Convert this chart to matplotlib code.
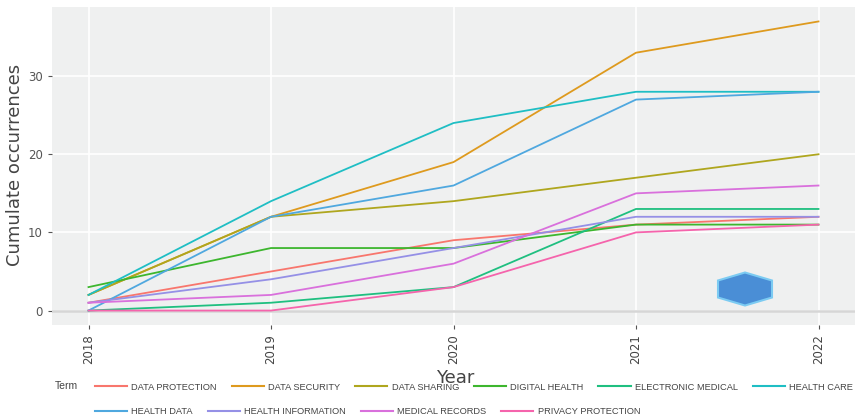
import matplotlib
matplotlib.use("Agg")
import matplotlib.pyplot as plt
from matplotlib.patches import Polygon

years = [2018, 2019, 2020, 2021, 2022]
terms = ["DATA PROTECTION", "DATA SECURITY", "DATA SHARING", "DIGITAL HEALTH",
         "ELECTRONIC MEDICAL", "HEALTH CARE", "HEALTH DATA", "HEALTH INFORMATION",
         "MEDICAL RECORDS", "PRIVACY PROTECTION"]
data_protection = [1, 5, 9, 11, 12]
data_security = [2, 12, 19, 33, 37]
data_sharing = [2, 12, 14, 17, 20]
digital_health = [3, 8, 8, 11, 11]
electronic_medical = [0, 1, 3, 13, 13]
health_care = [2, 14, 24, 28, 28]
health_data = [0, 12, 16, 27, 28]
health_information = [1, 4, 8, 12, 12]
medical_records = [1, 2, 6, 15, 16]
privacy_protection = [0, 0, 3, 10, 11]
series = [data_protection, data_security, data_sharing, digital_health,
          electronic_medical, health_care, health_data, health_information,
          medical_records, privacy_protection]
colors = ["#F8766D", "#DE9A1E", "#AFA61E", "#3DB62E", "#1FBF80", "#1FBEC4",
          "#4FA8DF", "#9590E6", "#D970DC", "#F564AC"]

plt.rcParams['font.family'] = ['Liberation Sans', 'DejaVu Sans']
fig = plt.figure(figsize=(8.55, 4.2), dpi=100)
ax = fig.add_axes([52/855, 95/420, 1 - 52/855, (325-7)/420])
ax.set_facecolor("#EFF0F0")
for s in ax.spines.values():
    s.set_visible(False)
ax.set_xlim(2017.8, 2022.2)
ax.set_ylim(-1.85, 38.85)
ax.set_xticks(years)
ax.set_yticks([0, 10, 20, 30])
ax.grid(True, color="white", linewidth=1.2)
ax.set_axisbelow(True)
ax.axhline(0, color="#D6D6D6", linewidth=1.8, zorder=1)

lines = []
for vals, c, t in zip(series, colors, terms):
    ln, = ax.plot(years, vals, color=c, linewidth=1.3, label=t, zorder=3)
    lines.append(ln)

ax.tick_params(axis='x', labelrotation=90, colors="#555555",
               length=3, width=0.8, labelcolor="#444444")
ax.tick_params(axis='y', colors="#555555", length=3, width=0.8,
               labelcolor="#555555")
for lab in ax.get_xticklabels() + ax.get_yticklabels():
    lab.set_family(['DejaVu Sans'])
    lab.set_fontsize(8.5)

fig.text(15/855, 1 - 165/420, "Cumulate occurrences", rotation=90, ha='center',
         va='center', fontsize=13, color="#444444", family=['DejaVu Sans'])
fig.text(455/855, 1 - 378/420, "Year", ha='center', va='center', fontsize=13,
         color="#444444", family=['DejaVu Sans'])
fig.text(55/855, 1 - 386/420, "Term", ha='left', va='center', fontsize=7.5,
         color="#444444")

# logo-like hexagon (decoration)
cx, cy = 7.45, 1.31
hx = [(cx, cy + 0.165), (cx + 0.27, cy + 0.085), (cx + 0.27, cy - 0.085),
      (cx, cy - 0.165), (cx - 0.27, cy - 0.085), (cx - 0.27, cy + 0.085)]
ax.add_patch(Polygon(hx, closed=True, transform=fig.dpi_scale_trans,
                     facecolor="#4A8ED6", edgecolor="#7CCBF2", linewidth=1.5,
                     zorder=4))

leg_kw = dict(frameon=False, fontsize=6.65, handlelength=3.5, handletextpad=0.45,
              columnspacing=1.6, borderaxespad=0, borderpad=0)
leg1 = fig.legend(lines[:6], terms[:6], ncol=6, loc='center left',
                  bbox_to_anchor=(95/855, 1 - 387/420), **leg_kw)
leg2 = fig.legend(lines[6:], terms[6:], ncol=4, loc='center left',
                  bbox_to_anchor=(95/855, 1 - 412/420), **leg_kw)
for leg in (leg1, leg2):
    for txt in leg.get_texts():
        txt.set_color("#444444")
    for h in leg.legend_handles:
        h.set_linewidth(1.5)

fig.savefig("out.png", dpi=100)
